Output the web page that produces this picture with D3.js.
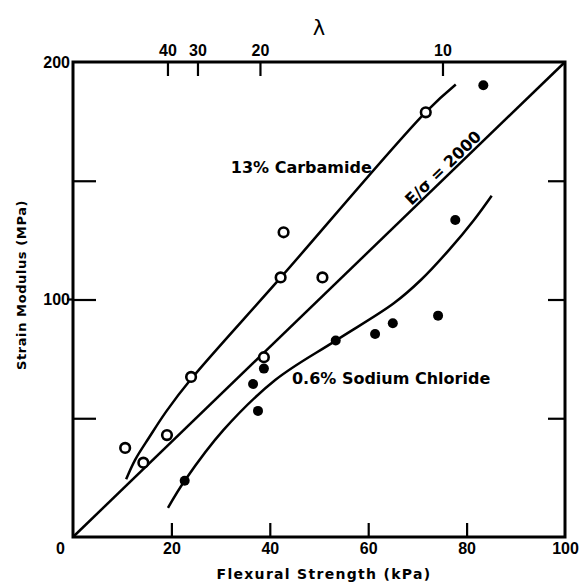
<!DOCTYPE html>
<html>
<head>
<meta charset="utf-8">
<script src="https://cdn.jsdelivr.net/npm/d3@7"></script>
<style>
  body { margin: 0; background: #fff; }
  svg { display: block; font-family: "DejaVu Sans", sans-serif; font-weight: bold; }
  .lbl { font-size: 16px; fill: #000; }
</style>
</head>
<body>
<div id="chart"></div>
<script>
// axis ticks
var xTickMarks = [20, 40, 60, 80];
var xTickLabels = [0, 20, 40, 60, 80, 100];
var yTickMarks = [50, 100, 150];
var yTickLabels = [100, 200];
var lambdaLabels = ['40', '30', '20', '10'];
var lambdaAt = [19.2, 25.3, 38.0, 75.1];

// 13% carbamide (open circles)
var carbX = [10.6, 14.3, 19.1, 24.0, 38.8, 42.2, 50.7, 42.8, 71.7];
var carbY = [37.5, 31.3, 42.9, 67.4, 75.7, 109.3, 109.3, 128.3, 178.8];
// fitted carbamide curve
var carbCurveX = [10.8, 12.6, 15.5, 19.0, 24.0, 42.2, 71.7, 77.8];
var carbCurveY = [24.3, 32.4, 42.0, 53.0, 66.5, 109.2, 178.9, 190.5];

// 0.6% sodium chloride (filled dots)
var naclX = [22.7, 36.6, 37.6, 38.8, 53.4, 61.4, 65.0, 74.2, 77.7, 83.4];
var naclY = [23.7, 64.4, 53.1, 70.9, 82.7, 85.5, 90.0, 93.2, 133.5, 190.2];
var naclCurveX = [19.3, 22.7, 30.6, 41.1, 53.4, 65.2, 70.7, 76.4, 81.5, 85.1];
var naclCurveY = [12.3, 23.7, 45.1, 66.1, 82.7, 98.4, 108.2, 120.8, 133.5, 143.7];

// E/sigma = 2000 reference line
var refX = [0, 100];
var refY = [0, 200];

var width = 581, height = 584;
var margin = { top: 62, right: 16, bottom: 47, left: 73 };
var innerW = width - margin.left - margin.right;
var innerH = height - margin.top - margin.bottom;

var x = d3.scaleLinear().domain([0, 100]).range([0, innerW]);
var y = d3.scaleLinear().domain([0, 200]).range([innerH, 0]);

var svg = d3.select('#chart').append('svg')
  .attr('width', width)
  .attr('height', height);

var g = svg.append('g').attr('transform', 'translate(' + margin.left + ',' + margin.top + ')');

function zip(xs, ys) {
  return xs.map(function (v, i) { return [v, ys[i]]; });
}

function styleTicks(sel) {
  sel.select('.domain').remove();
  sel.selectAll('.tick line').attr('stroke', '#000').attr('stroke-width', 2.2);
  sel.selectAll('.tick text').attr('class', 'lbl').attr('fill', '#000').style('font-size', '16px');
}

// inward tick marks
g.append('g').attr('transform', 'translate(0,' + innerH + ')')
  .call(d3.axisTop(x).tickValues(xTickMarks).tickSize(14).tickFormat(''))
  .call(styleTicks);
g.append('g')
  .call(d3.axisRight(y).tickValues(yTickMarks).tickSize(23).tickFormat(''))
  .call(styleTicks);
g.append('g').attr('transform', 'translate(' + innerW + ',0)')
  .call(d3.axisLeft(y).tickValues(yTickMarks).tickSize(17).tickFormat(''))
  .call(styleTicks);
// small outer nub at 100
g.append('line')
  .attr('x1', -6).attr('x2', 0)
  .attr('y1', y(100)).attr('y2', y(100))
  .attr('stroke', '#000').attr('stroke-width', 2.2);

// tick labels
var xl = g.append('g').attr('transform', 'translate(0,' + innerH + ')')
  .call(d3.axisBottom(x).tickValues(xTickLabels).tickSize(0).tickPadding(6))
  .call(styleTicks);
xl.selectAll('.tick').filter(function (d) { return d === 0; })
  .select('text').attr('dx', -13);

g.append('g')
  .call(d3.axisLeft(y).tickValues(yTickLabels).tickSize(0).tickPadding(3))
  .call(styleTicks);

// lambda scale on top
var lam = d3.scaleOrdinal().domain(lambdaLabels).range(lambdaAt.map(x));
g.append('g')
  .call(d3.axisBottom(lam).tickSize(14).tickFormat(''))
  .call(styleTicks);
g.append('g')
  .call(d3.axisTop(lam).tickSize(0).tickPadding(6))
  .call(styleTicks);
svg.append('text').attr('class', 'lbl')
  .attr('x', 319).attr('y', 35)
  .attr('text-anchor', 'middle')
  .style('font-size', '21px').style('font-weight', 'normal')
  .text('λ');

// frame
g.append('rect')
  .attr('width', innerW).attr('height', innerH)
  .attr('fill', 'none').attr('stroke', '#000').attr('stroke-width', 3);

var line = d3.line()
  .x(function (d) { return x(d[0]); })
  .y(function (d) { return y(d[1]); });
var smooth = d3.line()
  .curve(d3.curveCatmullRom.alpha(0.5))
  .x(function (d) { return x(d[0]); })
  .y(function (d) { return y(d[1]); });

g.append('path').attr('d', line(zip(refX, refY)))
  .attr('fill', 'none').attr('stroke', '#000').attr('stroke-width', 2.5);
g.append('path').attr('d', smooth(zip(carbCurveX, carbCurveY)))
  .attr('fill', 'none').attr('stroke', '#000').attr('stroke-width', 2.5);
g.append('path').attr('d', smooth(zip(naclCurveX, naclCurveY)))
  .attr('fill', 'none').attr('stroke', '#000').attr('stroke-width', 2.5);

g.selectAll('.carb').data(zip(carbX, carbY)).enter().append('circle')
  .attr('class', 'carb')
  .attr('cx', function (d) { return x(d[0]); })
  .attr('cy', function (d) { return y(d[1]); })
  .attr('r', 4.8)
  .attr('fill', '#fff').attr('stroke', '#000').attr('stroke-width', 2.6);

g.selectAll('.nacl').data(zip(naclX, naclY)).enter().append('circle')
  .attr('class', 'nacl')
  .attr('cx', function (d) { return x(d[0]); })
  .attr('cy', function (d) { return y(d[1]); })
  .attr('r', 5)
  .attr('fill', '#000');

// curve labels
g.append('text').attr('class', 'lbl')
  .attr('x', x(46.4)).attr('y', y(156) + 6)
  .attr('text-anchor', 'middle')
  .text('13% Carbamide');

g.append('text').attr('class', 'lbl')
  .attr('x', x(44.5)).attr('y', y(67.1) + 6)
  .text('0.6% Sodium Chloride');

var ang = Math.atan2(y(200) - y(0), x(100) - x(0)) * 180 / Math.PI;
g.append('text').attr('class', 'lbl')
  .attr('transform', 'translate(' + x(75.2) + ',' + y(155.4) + ') rotate(' + ang + ')')
  .attr('text-anchor', 'middle')
  .attr('dy', '0.35em')
  .text('E/σ = 2000');

// axis titles
svg.append('text').attr('class', 'lbl')
  .attr('x', 324).attr('y', 579)
  .attr('text-anchor', 'middle')
  .style('font-size', '14px')
  .style('letter-spacing', '1.3px')
  .text('Flexural Strength (kPa)');

svg.append('text').attr('class', 'lbl')
  .attr('transform', 'translate(26,' + 285 + ') rotate(-90)')
  .attr('text-anchor', 'middle')
  .style('font-size', '13px')
  .style('letter-spacing', '0.6px')
  .text('Strain Modulus (MPa)');
</script>
</body>
</html>
